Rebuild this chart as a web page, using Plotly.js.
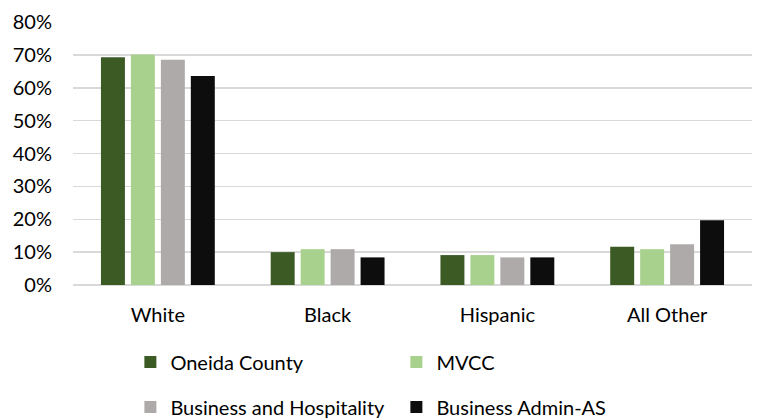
<!DOCTYPE html>
<html>
<head>
<meta charset="utf-8">
<script src="https://cdn.plot.ly/plotly-3.0.1.min.js"></script>
<style>html,body{margin:0;padding:0;background:#fff;}</style>
</head>
<body>
<div id="chart" style="width:758px;height:420px;"></div>
<script>
const categories = ["White", "Black", "Hispanic", "All Other"];
const seriesNames = ["Oneida County", "MVCC", "Business and Hospitality", "Business Admin-AS"];
const oneidaCounty = [0.693, 0.100, 0.091, 0.116];
const mvcc = [0.701, 0.109, 0.091, 0.109];
const businessHospitality = [0.685, 0.109, 0.084, 0.124];
const businessAdminAS = [0.636, 0.084, 0.084, 0.197];
const colors = ["#3c5a24", "#a9d18e", "#aeaaaa", "#0d0d0d"];
const legendIds = ["legend", "legend", "legend2", "legend2"];

const allValues = [oneidaCounty, mvcc, businessHospitality, businessAdminAS];
const FONT = "Lato, 'Open Sans', sans-serif";
const FS = 20;

const traces = allValues.map((vals, i) => ({
  type: "bar",
  name: seriesNames[i],
  x: categories,
  y: vals,
  marker: {color: colors[i]},
  legend: legendIds[i],
  hoverinfo: "skip"
}));

const legendBase = {
  orientation: "h",
  xref: "container",
  yref: "container",
  x: 0.172,
  xanchor: "left",
  yanchor: "middle",
  entrywidth: 221,
  entrywidthmode: "pixels",
  font: {family: FONT, size: FS, color: "#000"},
  bgcolor: "rgba(0,0,0,0)",
  itemwidth: 30,
  traceorder: "normal"
};

const layout = {
  width: 758,
  height: 420,
  margin: {l: 73, r: 6, t: 22, b: 135},
  paper_bgcolor: "#fff",
  plot_bgcolor: "#fff",
  barmode: "group",
  bargap: 0.294,
  bargroupgap: 0.2,
  font: {family: FONT, size: FS, color: "#000"},
  xaxis: {
    type: "category",
    showgrid: false,
    showline: false,
    zeroline: false,
    ticks: "",
    ticklen: 0,
    ticklabelstandoff: 16,
    tickfont: {family: FONT, size: FS, color: "#000"}
  },
  yaxis: {
    range: [0, 0.8],
    dtick: 0.1,
    tickformat: ".0%",
    showgrid: true,
    gridcolor: "#d9d9d9",
    gridwidth: 1.5,
    zeroline: true,
    zerolinecolor: "#d9d9d9",
    zerolinewidth: 1.5,
    showline: false,
    ticks: "",
    ticklabelstandoff: 20,
    tickfont: {family: FONT, size: FS, color: "#000"}
  },
  legend: Object.assign({}, legendBase, {y: 1 - 362/420}),
  legend2: Object.assign({}, legendBase, {y: 1 - 407/420}),
  showlegend: true
};

Plotly.newPlot("chart", traces, layout, {staticPlot: true, displayModeBar: false});
</script>
</body>
</html>
